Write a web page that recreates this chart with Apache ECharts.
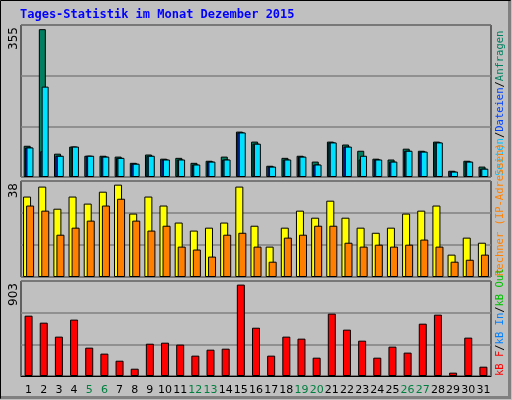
<!DOCTYPE html>
<html><head><meta charset="utf-8">
<script src="https://cdn.jsdelivr.net/npm/echarts@6/dist/echarts.min.js"></script>
<style>body{margin:0;background:#c0c0c0}#c{width:512px;height:400px}</style>
</head><body><div id="c"></div>
<script>
const days = Array.from({length:31},(_,i)=>String(i+1));
const weekend = ['5','6','12','13','19','20','26','27'];
const hits  = [75,355,56,73,51,51,49,34,54,44,46,34,39,49,109,85,27,46,51,37,85,78,63,44,42,68,63,85,15,39,25];
const files = [71,62,51,73,51,49,46,32,51,42,42,30,37,42,107,80,25,42,49,30,83,73,42,42,37,63,61,83,13,37,20];
const pages = [71,217,51,73,51,49,46,32,51,42,42,30,37,42,107,80,25,42,49,30,83,73,51,42,37,63,61,83,13,37,20];
const visits= [33.1,37.2,28.1,33.1,30.2,35.1,38,26.1,33.1,29.4,22.4,19.1,20.3,22.4,37.2,21.1,12.5,20.3,27.3,24.4,31.4,24.4,20.3,18.2,20.3,26.1,27.3,29.4,9.2,16.2,14.1];
const sites = [29.4,27.3,17.4,20.3,23.2,29.4,32.2,23.2,19.1,21.1,12.5,11.3,8.4,17.4,18.2,12.5,6.3,16.2,17.4,21.1,21.1,14.1,12.5,13.3,12.5,13.3,15.4,12.5,6.3,7.1,9.2];
const kbytes= [596,527,389,557,280,221,151,72,319,329,310,201,260,270,903,477,201,389,369,181,616,458,349,181,290,231,517,606,33,379,92];
const maxLabels = ['355','38','903'];
const M1=365, M2=39.5, M3=938.6;
const grids=[{left:21,right:21,top:25,height:152},{left:21,right:21,top:181,height:96},{left:21,right:21,top:281,height:95}];
const xa=i=>({type:'category',data:days,gridIndex:i,axisTick:{show:false},axisLine:{show:i==2,lineStyle:{color:'#000'}},
  axisLabel:{show:i==2,interval:0,fontFamily:'DejaVu Sans',fontSize:11,margin:9,color:(v)=>weekend.includes(v)?'#008040':'#000'}});
const ya=(i,M)=>({type:'value',gridIndex:i,min:0,max:M,interval:M/3,axisLabel:{show:false},axisLine:{show:false},axisTick:{show:false},splitLine:{lineStyle:{color:'#808080',width:1.5}}});
const bs=(name,data,color,xi,w,gap)=>({type:'bar',name,data,xAxisIndex:xi,yAxisIndex:xi,barWidth:w,barGap:gap,animation:false,
  itemStyle:{color,borderColor:'#000',borderWidth:1}});
const chart=echarts.init(document.getElementById('c'));
const side=(y,text,rich)=>({type:'text',x:500,y,rotation:Math.PI/2,style:{text,rich,fontFamily:'DejaVu Sans Mono',fontSize:10.5,align:'left',verticalAlign:'middle'}});
const lbl=(y,t)=>({type:'text',x:14,y,rotation:Math.PI/2,style:{text:t,fill:'#000',fontFamily:'DejaVu Sans',fontSize:12,align:'right',verticalAlign:'middle'}});
chart.setOption({
  backgroundColor:'#c0c0c0',
  grid:grids.map(g=>Object.assign({show:true,borderColor:'#000',borderWidth:1,backgroundColor:'#c0c0c0'},g)),
  xAxis:[xa(0),xa(1),xa(2)],
  yAxis:[ya(0,M1),ya(1,M2),ya(2,M3)],
  series:[
    bs('Anfragen',hits,'#008060',0,7,'-80%'),
    bs('Dateien',files,'#0040ff',0,7,'-80%'),
    bs('Seiten',pages,'#00e0ff',0,7,'-80%'),
    bs('Besuche',visits,'#ffff00',1,8,'-62%'),
    bs('Rechner',sites,'#ff8000',1,8,'-62%'),
    bs('kB F',kbytes,'#ff0000',2,8,'0%')
  ],
  graphic:[
    {type:'rect',shape:{x:0.5,y:0.5,width:510,height:398},style:{fill:'none',stroke:'#000',lineWidth:1}},
    {type:'rect',shape:{x:1,y:396,width:510,height:3},style:{fill:'#808080'}},
    {type:'rect',shape:{x:508,y:1,width:3,height:398},style:{fill:'#808080'}},
    {type:'text',x:20,y:9,style:{text:'Tages-Statistik im Monat Dezember 2015',fill:'#0000ff',fontFamily:'DejaVu Sans Mono',fontWeight:'bold',fontSize:12}},
    lbl(27,maxLabels[0]),lbl(183,maxLabels[1]),lbl(283,maxLabels[2]),
    side(176,'{c|Seiten}{k|/}{b|Dateien}{k|/}{g|Anfragen}',{c:{fill:'#00c0ff'},b:{fill:'#0040ff'},g:{fill:'#008060'},k:{fill:'#000'}}),
    side(276,'{o|Rechner (IP-Adressen)}',{o:{fill:'#ff8000'}}),
    side(376,'{r|kB F}{k|/}{b|kB In}{k|/}{g|kB Out}',{r:{fill:'#ff0000'},b:{fill:'#0080ff'},g:{fill:'#00c000'},k:{fill:'#000'}})
  ]
});
</script></body></html>
